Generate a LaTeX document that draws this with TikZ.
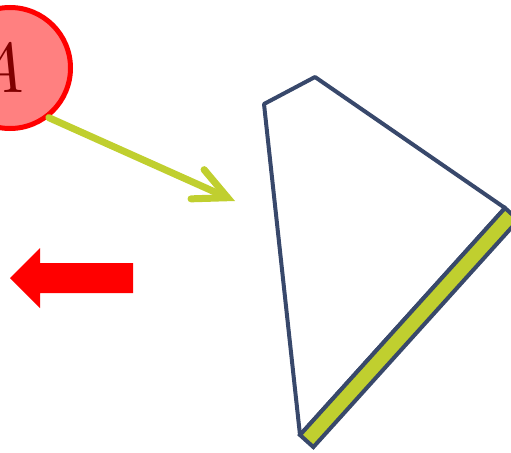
\RequirePackage{fix-cm}
\documentclass[tikz,border=0pt]{standalone}
\usepackage{amsmath}
\usepackage{tikz}
\usetikzlibrary{arrows.meta,calc}
\usepackage{xcolor}

\definecolor{leaf}{RGB}{192,207,47}
\definecolor{ink}{RGB}{56,72,107}
\definecolor{salmon}{RGB}{255,128,128}
\definecolor{wine}{RGB}{128,0,0}

\begin{document}
\begin{tikzpicture}[x=0.02cm,y=-0.02cm]
        \def\px{0.02cm}
        \def\bw{18}
        \useasboundingbox (0,0) rectangle (511,453);

        % --- 四角形 ---
        \draw[ink,line width=4*\px,line join=round]
          (264,104) -- (315,77) -- (505,208) -- (300,435) -- cycle;

        % 太い辺
        \draw[ink,fill=leaf,line width=4*\px]
          (505,208) -- (300,435)
          -- ++(0.742*\bw,0.670*\bw)
          -- ($(505,208)+(0.742*\bw,0.670*\bw)$) -- cycle;

        % --- 円 A ---
        \node[circle,draw=red,fill=salmon,line width=5*\px,
              minimum size=121*\px,inner sep=0pt,text=wine,
              font=\fontsize{40}{40}\selectfont] (A) at (10,68)
          {\(A\)\hspace*{0.48cm}};

        % 矢印
        \coordinate (tgt) at (235,201);
        \draw[leaf,line width=7*\px,line cap=round,
              -{Straight Barb[length=33*\px,width=32*\px,line cap=round]}]
          (A.-52) -- (tgt);

        % 左向きの矢印
        \fill[red] (133,263) -- (40,263) -- (40,248) -- (10,278)
          -- (40,308) -- (40,293) -- (133,293) -- cycle;
      \end{tikzpicture}
\end{document}
